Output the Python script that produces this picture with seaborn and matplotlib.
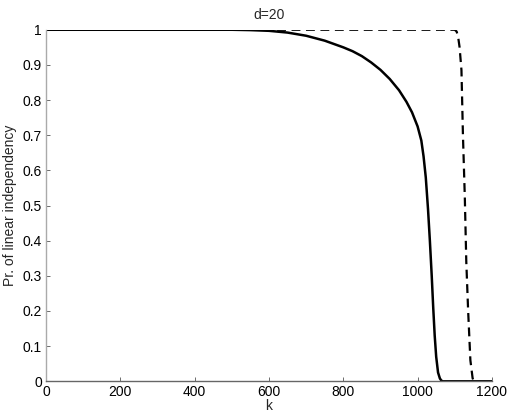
import numpy as np
import pandas as pd
import matplotlib
matplotlib.use("Agg")
import matplotlib.pyplot as plt
import seaborn as sns

# values
k_solid = [0, 300, 500, 550, 600, 650, 700, 750, 800, 825, 850, 875, 900, 925, 950, 970,
           985, 1000, 1010, 1016, 1022, 1028, 1033, 1038, 1042, 1046, 1050, 1055, 1060,
           1064, 1068, 1200]
p_solid = [1.0, 1.0, 1.0, 0.999, 0.997, 0.992, 0.983, 0.969, 0.950, 0.939, 0.925, 0.907,
           0.886, 0.860, 0.828, 0.795, 0.765, 0.725, 0.685, 0.64, 0.58, 0.49, 0.40, 0.30,
           0.21, 0.13, 0.07, 0.025, 0.008, 0.002, 0.0, 0.0]

k_dash = [0, 500, 1000, 1100, 1105, 1109, 1113, 1118, 1122, 1127, 1131, 1136, 1142, 1148, 1151]
p_dash = [1.0, 1.0, 1.0, 1.0, 0.995, 0.98, 0.95, 0.885, 0.70, 0.525, 0.34, 0.20, 0.06, 0.009, 0.0]

sns.set_style("ticks")
plt.rcParams["font.family"] = ["Liberation Sans", "DejaVu Sans"]

fig = plt.figure(figsize=(5.12, 4.18), dpi=100)
ax = fig.add_axes([0.0898, 0.0878, 0.871, 0.841])

sns.lineplot(x=k_solid, y=p_solid, ax=ax, color="black", linewidth=1.8)
sns.lineplot(x=k_dash, y=p_dash, ax=ax, color="black", linewidth=1.6, linestyle=(0, (4, 2.5)))

ax.set_xlim(0, 1200)
ax.set_ylim(0, 1)
ax.set_xticks(np.arange(0, 1201, 200))
ax.set_yticks(np.arange(0, 1.01, 0.1))
ax.set_yticklabels(["0", "0.1", "0.2", "0.3", "0.4", "0.5", "0.6", "0.7", "0.8", "0.9", "1"])
ax.tick_params(direction="in", length=3, width=0.6, colors="#555555", labelcolor="black",
               labelsize=10, pad=3)
sns.despine(ax=ax)
ax.spines["left"].set_color("#aaaaaa")
ax.spines["bottom"].set_color("#666666")
ax.spines["left"].set_linewidth(1.0)
ax.spines["bottom"].set_linewidth(1.0)

ax.set_title("d=20", fontsize=10, pad=8)
ax.set_xlabel("k", fontsize=10, labelpad=0)
ax.set_ylabel("Pr. of linear independency", fontsize=10, labelpad=4)

fig.savefig("out.png", dpi=100)
